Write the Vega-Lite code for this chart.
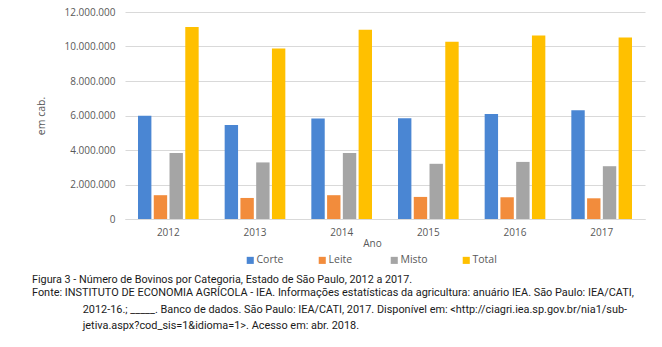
{
  "$schema": "https://vega.github.io/schema/vega-lite/v6.json",
  "width": 520,
  "height": 207,
  "autosize": {"type": "none"},
  "padding": {"left": 125, "top": 12, "right": 17, "bottom": 128},
  "background": "white",
  "config": {
    "locale": {"number": {"decimal": ",", "thousands": ".", "grouping": [3], "currency": ["R$", ""]}},
    "font": "Open Sans",
    "view": {"stroke": null}
  },
  "title": {
    "text": "Figura 3 - Número de Bovinos por Categoria, Estado de São Paulo, 2012 a 2017.",
    "subtitle": [
      "Fonte: INSTITUTO DE ECONOMIA AGRÍCOLA - IEA. Informações estatísticas da agricultura: anuário IEA. São Paulo: IEA/CATI,",
      "\u2800\u2800\u2800\u2800\u2800\u2800 2012-16.; _____. Banco de dados. São Paulo: IEA/CATI, 2017. Disponível em: <http://ciagri.iea.sp.gov.br/nia1/sub-",
      "\u2800\u2800\u2800\u2800\u2800\u2800 jetiva.aspx?cod_sis=1&idioma=1>. Acesso em: abr. 2018."
    ],
    "orient": "bottom",
    "anchor": "start",
    "frame": "group",
    "dx": -93,
    "offset": 8,
    "font": "Roboto",
    "fontSize": 10.8,
    "fontWeight": "normal",
    "color": "#1a1a1a",
    "subtitleFont": "Roboto",
    "subtitleFontSize": 10.9,
    "subtitleColor": "#1a1a1a",
    "subtitleLineHeight": 16.6,
    "subtitlePadding": 2.5
  },
  "data": {
    "values": [
      {"ano": "2012", "categoria": "Corte", "valor": 5990000},
      {"ano": "2012", "categoria": "Leite", "valor": 1380000},
      {"ano": "2012", "categoria": "Misto", "valor": 3820000},
      {"ano": "2012", "categoria": "Total", "valor": 11130000},
      {"ano": "2013", "categoria": "Corte", "valor": 5450000},
      {"ano": "2013", "categoria": "Leite", "valor": 1220000},
      {"ano": "2013", "categoria": "Misto", "valor": 3280000},
      {"ano": "2013", "categoria": "Total", "valor": 9880000},
      {"ano": "2014", "categoria": "Corte", "valor": 5830000},
      {"ano": "2014", "categoria": "Leite", "valor": 1380000},
      {"ano": "2014", "categoria": "Misto", "valor": 3820000},
      {"ano": "2014", "categoria": "Total", "valor": 10970000},
      {"ano": "2015", "categoria": "Corte", "valor": 5840000},
      {"ano": "2015", "categoria": "Leite", "valor": 1280000},
      {"ano": "2015", "categoria": "Misto", "valor": 3200000},
      {"ano": "2015", "categoria": "Total", "valor": 10270000},
      {"ano": "2016", "categoria": "Corte", "valor": 6090000},
      {"ano": "2016", "categoria": "Leite", "valor": 1260000},
      {"ano": "2016", "categoria": "Misto", "valor": 3310000},
      {"ano": "2016", "categoria": "Total", "valor": 10640000},
      {"ano": "2017", "categoria": "Corte", "valor": 6300000},
      {"ano": "2017", "categoria": "Leite", "valor": 1200000},
      {"ano": "2017", "categoria": "Misto", "valor": 3060000},
      {"ano": "2017", "categoria": "Total", "valor": 10520000}
    ]
  },
  "mark": {"type": "bar"},
  "encoding": {
    "x": {
      "field": "ano",
      "type": "nominal",
      "scale": {"paddingInner": 0.3, "paddingOuter": 0.15},
      "axis": {
        "title": "Ano",
        "labelAngle": 0,
        "labelColor": "#595959",
        "labelFontSize": 10,
        "labelPadding": 8,
        "ticks": false,
        "domainColor": "#d9d9d9",
        "titleColor": "#595959",
        "titleFontSize": 10,
        "titleFontWeight": "normal",
        "titleX": 247,
        "titleY": 27,
        "titleBaseline": "alphabetic"
      }
    },
    "xOffset": {
      "field": "categoria",
      "type": "nominal",
      "scale": {"paddingInner": 0.15, "paddingOuter": 0}
    },
    "y": {
      "field": "valor",
      "type": "quantitative",
      "scale": {"domain": [0, 12000000], "nice": false},
      "axis": {
        "title": "em cab.",
        "values": [0, 2000000, 4000000, 6000000, 8000000, 10000000, 12000000],
        "format": ",d",
        "labelColor": "#595959",
        "labelFontSize": 10,
        "labelPadding": 10,
        "ticks": false,
        "domain": false,
        "gridColor": "#d9d9d9",
        "titleColor": "#595959",
        "titleFontSize": 10.5,
        "titleFontWeight": "normal",
        "titlePadding": 18
      }
    },
    "color": {
      "field": "categoria",
      "type": "nominal",
      "scale": {"domain": ["Corte", "Leite", "Misto", "Total"], "range": ["#4a86d3", "#f28c3c", "#a5a5a5", "#ffc000"]},
      "legend": {
        "title": null,
        "orient": "none",
        "direction": "horizontal",
        "legendX": 120,
        "legendY": 243,
        "columns": 4,
        "gridAlign": "all",
        "symbolType": "square",
        "symbolSize": 50,
        "symbolStrokeWidth": 0,
        "labelOffset": 1,
        "labelColor": "#595959",
        "labelFontSize": 10.5,
        "columnPadding": 33,
        "padding": 0
      }
    }
  }
}
